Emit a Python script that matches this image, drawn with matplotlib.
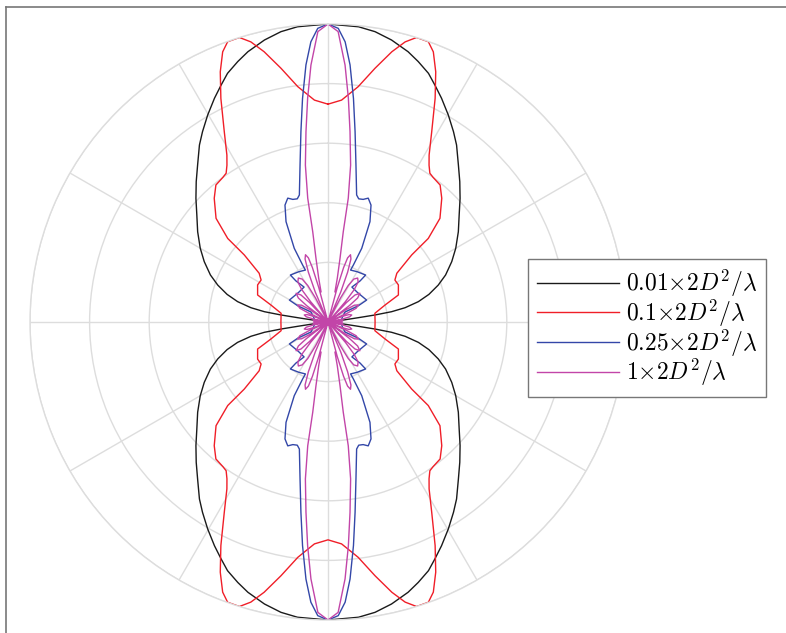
import numpy as np
import matplotlib
matplotlib.use("Agg")
import matplotlib.pyplot as plt
from matplotlib.lines import Line2D

plt.rcParams['mathtext.fontset'] = 'cm'

# ---- data: one quadrant (theta in degrees from the top, normalised radius), mirrored by symmetry ----
labels = [r"$0.01{\times}2D^2/\lambda$", r"$0.1{\times}2D^2/\lambda$",
          r"$0.25{\times}2D^2/\lambda$", r"$1{\times}2D^2/\lambda$"]
colors = ["#1a1a1a", "#f01e28", "#3347a8", "#c245a8"]

black_theta = [0, 5.9, 9.2, 12.7, 16.5, 19.1, 22.0, 24.3, 26.9, 30.2, 33.4, 36.0, 39.7, 43.2,
               46.9, 50.8, 55.3, 60.0, 64.0, 68.2, 71.5, 74.7, 77.3, 79.5, 80.8, 81.5, 81.9,
               82.5, 84, 87, 90]
black_r = [1.0, 0.996, 0.987, 0.970, 0.946, 0.925, 0.900, 0.872, 0.842, 0.803, 0.765, 0.734,
           0.685, 0.646, 0.607, 0.568, 0.532, 0.495, 0.462, 0.425, 0.390, 0.351, 0.311, 0.263,
           0.216, 0.159, 0.103, 0.058, 0.03, 0.01, 0.0]

red_theta = [0, 3.5, 7.3, 10.5, 13.3, 15.4, 17.3, 19.7, 21.3, 23.3, 25.6, 28.6, 31.2, 32.8,
             34.4, 36, 39.3, 42.6, 47.2, 50.2, 51.3, 54.7, 57.9, 62.2, 69, 73.4, 79.5, 90]
red_r = [0.731, 0.746, 0.796, 0.866, 0.932, 0.975, 1.0, 0.999, 0.973, 0.914, 0.832, 0.727,
         0.655, 0.626, 0.605, 0.600, 0.594, 0.564, 0.512, 0.438, 0.360, 0.283, 0.265, 0.267,
         0.253, 0.200, 0.160, 0.158]

blue_theta = [0, 2, 3.5, 4.9, 6.5, 8.1, 10.1, 12.7, 14, 16, 18, 20.2, 22.7, 24.6, 24.0,
              23.5, 30, 38.7, 38.0, 34.4, 45, 60.4, 61.9, 59.5, 74, 90]
blue_r = [1.0, 0.986, 0.942, 0.866, 0.755, 0.645, 0.535, 0.437, 0.426, 0.428, 0.437, 0.418,
          0.365, 0.272, 0.209, 0.190, 0.195, 0.202, 0.175, 0.142, 0.140, 0.149, 0.114, 0.066,
          0.049, 0.044]

mag_theta = [0, 2, 3.8, 5.2, 6.6, 8.2, 9.3, 9.6, 10.7, 12, 13, np.nan,
             14, 15, 16, 17, 18.5, 20, 21.5, 23, 25,
             26, 27.5, 29, 31, 34, 37, 39, 40.5, 42,
             43.5, 45, 48, 51, 52.5, 54,
             55.5, 57.5, 60.7, 64, 65.5, 67,
             68.5, 70.5, 73.5, 76.5, 78.5, 80,
             81.5, 83, 85, 87, 88.5, 90]
mag_r = [1.0, 0.975, 0.864, 0.754, 0.643, 0.532, 0.421, 0.307, 0.217, 0.150, 0.104, np.nan,
         0.0, 0.12, 0.19, 0.225, 0.238, 0.225, 0.18, 0.11, 0.0,
         0.0, 0.09, 0.14, 0.168, 0.178, 0.168, 0.14, 0.09, 0.0,
         0.09, 0.128, 0.144, 0.128, 0.09, 0.0,
         0.07, 0.105, 0.117, 0.105, 0.07, 0.0,
         0.05, 0.075, 0.083, 0.075, 0.05, 0.0,
         0.03, 0.045, 0.05, 0.045, 0.03, 0.0]

series = [(black_theta, black_r), (red_theta, red_r), (blue_theta, blue_r), (mag_theta, mag_r)]


def four_quadrants(th, r):
    th = np.asarray(th, dtype=float)
    r = np.asarray(r, dtype=float)
    full_th = np.concatenate([th, 180 - th[::-1], 180 + th, 360 - th[::-1]])
    full_r = np.concatenate([r, r[::-1], r, r[::-1]])
    return np.deg2rad(full_th), full_r


W, H = 786, 633
fig = plt.figure(figsize=(W / 100, H / 100), dpi=100)

cx, cy, R = 328, 322, 298
ax = fig.add_axes([(cx - R) / W, (H - cy - R) / H, 2 * R / W, 2 * R / H], projection='polar')
ax.set_theta_zero_location('N')
ax.set_theta_direction(-1)
ax.set_ylim(0, 1)
ax.set_yticks([0.2, 0.4, 0.6, 0.8, 1.0])
ax.set_xticks(np.deg2rad(np.arange(0, 360, 30)))
ax.set_xticklabels([])
ax.set_yticklabels([])
ax.grid(True, color='#dddddd', lw=1.0)
ax.spines['polar'].set_color('#dddddd')
ax.spines['polar'].set_linewidth(1.0)
ax.tick_params(length=0)
ax.patch.set_alpha(0)

handles = []
for (th, r), c, lab in zip(series, colors, labels):
    t, rr = four_quadrants(th, r)
    h, = ax.plot(t, rr, color=c, lw=1.0, label=lab)
    handles.append(h)

# outer frame (partly outside of the picture)
fig.add_artist(Line2D([6.5 / W, 6.5 / W], [0, 1 - 7 / H], color='#777777', lw=1.2, transform=fig.transFigure))
fig.add_artist(Line2D([6.5 / W, 1.0], [1 - 7 / H, 1 - 7 / H], color='#777777', lw=1.2, transform=fig.transFigure))

leg = fig.legend(handles=handles, labels=labels, loc='upper left',
                 bbox_to_anchor=(528 / W, 1 - 259 / H), borderaxespad=0,
                 fontsize=17, handlelength=3.47, handletextpad=0.3,
                 labelspacing=-0.06, borderpad=0.38, fancybox=False, framealpha=1)
leg.get_frame().set_edgecolor('#777777')
leg.get_frame().set_linewidth(1.0)

fig.savefig('out.png', dpi=100)
